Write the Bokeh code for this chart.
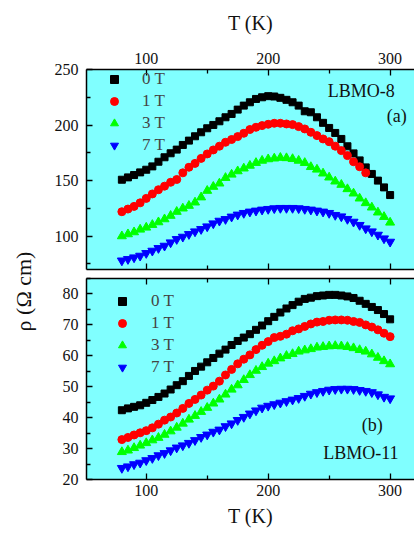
from math import pi
from bokeh.plotting import figure
from bokeh.models import Range1d, LinearAxis, FixedTicker, Legend, LegendItem, Label
from bokeh.layouts import row, column
from bokeh.embed import file_html
from bokeh.resources import INLINE

# ---------------- data ----------------
T = [80, 85, 90, 95, 100, 105, 110, 115, 120, 125, 130, 135, 140, 145, 150,
     155, 160, 165, 170, 175, 180, 185, 190, 195, 200, 205, 210, 215, 220, 225,
     230, 235, 240, 245, 250, 255, 260, 265, 270, 275, 280, 285, 290, 295, 300]
T_1T_a = T[:41]

field_labels = ["0 T", "1 T", "3 T", "7 T"]
x_ticks = [100, 200, 300]
x_minor = [50, 150, 250]
ya_ticks = [100, 150, 200, 250]
ya_minor = [75, 125, 175, 225]
yb_ticks = [20, 30, 40, 50, 60, 70, 80]
yb_minor = [25, 35, 45, 55, 65, 75, 85]

# LBMO-8 (a)
a_0T = [150.8, 152.9, 155.0, 157.4, 159.8, 162.8, 167.0, 171.0, 174.6, 177.9,
        182.1, 186.0, 189.9, 193.5, 197.1, 200.1, 203.4, 207.0, 210.0, 213.9,
        217.5, 220.5, 223.5, 225.0, 226.0, 225.7, 224.5, 222.7, 220.5, 217.5,
        212.4, 211.5, 207.0, 202.0, 197.4, 192.9, 187.5, 180.9, 174.5, 168.2,
        161.9, 156.0, 150.0, 143.9, 137.0]
a_1T = [122.0, 124.4, 126.8, 130.0, 134.0, 138.0, 141.8, 145.0, 148.5, 151.0,
        157.0, 162.0, 165.5, 170.0, 174.0, 177.6, 181.0, 184.5, 187.0, 189.6,
        192.6, 196.0, 198.0, 199.5, 200.7, 201.6, 201.6, 201.0, 200.4, 198.6,
        196.5, 193.5, 190.5, 187.5, 185.0, 181.0, 177.0, 172.5, 167.0, 162.5,
        157.0]
a_3T = [100.0, 101.8, 103.6, 106.0, 107.8, 110.2, 112.6, 115.3, 118.4, 122.0,
        125.0, 127.4, 130.4, 135.0, 140.9, 144.5, 147.5, 152.5, 155.5, 158.5,
        161.0, 163.5, 166.0, 168.0, 169.3, 170.0, 170.6, 170.3, 169.5, 168.0,
        166.0, 162.3, 160.0, 156.5, 152.9, 149.3, 146.3, 142.4, 138.5, 134.0,
        129.8, 125.9, 121.4, 117.4, 112.3]
a_7T = [78.0, 79.3, 80.8, 82.3, 84.7, 86.8, 89.2, 91.3, 94.3, 97.3,
        99.4, 101.8, 104.2, 106.3, 108.7, 111.4, 113.8, 115.3, 117.5, 119.3,
        120.8, 122.0, 122.9, 123.8, 124.4, 125.0, 125.3, 125.3, 125.3, 125.0,
        124.4, 123.8, 122.9, 122.0, 120.8, 119.0, 117.7, 115.4, 112.9, 110.0,
        106.9, 104.2, 101.2, 97.9, 94.9]

# LBMO-11 (b)
b_0T = [42.4, 43.0, 43.5, 44.0, 44.8, 45.7, 46.7, 47.8, 49.1, 50.5,
        51.8, 53.5, 55.1, 56.5, 57.9, 59.3, 60.7, 62.0, 63.5, 64.8,
        65.9, 67.0, 68.4, 69.8, 71.2, 72.6, 74.0, 75.3, 76.4, 77.5,
        78.4, 78.8, 79.3, 79.5, 79.7, 79.7, 79.5, 79.2, 78.7, 77.8,
        76.8, 75.8, 74.8, 73.5, 71.8]
b_1T = [32.9, 33.6, 34.4, 35.1, 35.8, 36.7, 37.9, 39.2, 40.2, 41.5,
        43.0, 44.6, 45.9, 47.3, 48.9, 50.2, 51.8, 53.8, 55.6, 57.4,
        58.9, 60.3, 62.0, 63.4, 64.6, 65.9, 66.3, 67.0, 68.1, 68.7,
        69.5, 70.3, 70.9, 71.1, 71.5, 71.6, 71.6, 71.5, 71.1, 70.8,
        70.0, 69.3, 68.4, 67.3, 66.2]
b_3T = [28.9, 29.4, 30.2, 31.0, 31.8, 32.7, 33.5, 34.5, 35.6, 36.8,
        38.1, 39.4, 40.6, 41.9, 43.2, 44.6, 45.9, 47.5, 49.1, 50.5,
        52.2, 53.8, 55.2, 56.4, 57.5, 58.3, 59.2, 60.0, 60.6, 61.4,
        61.8, 62.2, 62.7, 62.9, 63.1, 63.2, 63.1, 62.9, 62.5, 61.9,
        61.4, 60.5, 59.4, 58.3, 57.3]
b_7T = [23.7, 24.2, 24.9, 25.4, 26.2, 26.9, 27.8, 28.5, 29.4, 30.3,
        31.0, 31.8, 32.7, 33.7, 34.5, 35.4, 36.1, 37.2, 38.1, 39.2,
        40.2, 41.3, 42.3, 43.2, 43.8, 44.3, 44.8, 45.3, 45.8, 46.3,
        47.0, 47.7, 48.2, 48.6, 49.0, 49.2, 49.3, 49.3, 49.2, 48.9,
        48.6, 48.2, 47.5, 46.7, 46.2]

# ---------------- style ----------------
FONT = "'Liberation Serif', 'Times New Roman', serif"
BG = "#80ffff"
markers = ["square", "circle", "triangle", "inverted_triangle"]
colors = ["black", "#ff0000", "#00ff00", "#0000ff"]
sizes = [7, 8, 9, 9]


def kill_grids(p):
    for g in p.xgrid + p.ygrid:
        g.visible = False
        g.grid_line_color = None


def style_axis(ax, show_labels=True, title=None):
    ax.axis_line_color = "black"
    ax.axis_line_width = 1.5
    ax.major_tick_in = 6
    ax.major_tick_out = 0
    ax.minor_tick_in = 4
    ax.minor_tick_out = 0
    ax.major_tick_line_color = "black"
    ax.minor_tick_line_color = "black"
    ax.major_tick_line_width = 1.3
    ax.minor_tick_line_width = 1.3
    ax.major_label_text_font = FONT
    ax.major_label_text_font_size = "16px"
    ax.major_label_text_color = "#111111"
    if not show_labels:
        ax.major_label_overrides = {t: "" for t in x_ticks}
        ax.major_label_text_font_size = "1px"
        ax.major_label_standoff = 0
    if title:
        ax.axis_label = title
        ax.axis_label_text_font = FONT
        ax.axis_label_text_font_size = "20px"
        ax.axis_label_text_font_style = "normal"
        ax.axis_label_text_color = "#111111"


def make_panel(ys, xs_list, y_lo, y_hi, yt, ym, frame_h, b_top, b_bot,
               top_labels, bottom_labels, leg_loc, leg_standoff):
    p = figure(frame_width=328, frame_height=frame_h,
               x_range=Range1d(51, 320), y_range=Range1d(y_lo, y_hi),
               x_axis_location=None, y_axis_location=None,
               toolbar_location=None, output_backend="svg",
               min_border_left=40, min_border_right=0,
               min_border_top=b_top, min_border_bottom=b_bot)
    p.background_fill_color = BG
    p.border_fill_color = "white"
    p.outline_line_color = None
    kill_grids(p)

    left = LinearAxis(ticker=FixedTicker(ticks=yt, minor_ticks=ym))
    style_axis(left)
    left.major_label_standoff = 8
    p.add_layout(left, "left")

    above = LinearAxis(ticker=FixedTicker(ticks=x_ticks, minor_ticks=x_minor))
    style_axis(above, show_labels=top_labels, title="T (K)" if top_labels else None)
    if top_labels:
        above.major_label_standoff = 6
        above.axis_label_standoff = 16
    p.add_layout(above, "above")

    below = LinearAxis(ticker=FixedTicker(ticks=x_ticks, minor_ticks=x_minor))
    style_axis(below, show_labels=bottom_labels, title="T (K)" if bottom_labels else None)
    if bottom_labels:
        below.major_label_standoff = 5
        below.axis_label_standoff = 6
    p.add_layout(below, "below")

    items = []
    for y, xs, mk, c, s, lab in zip(ys, xs_list, markers, colors, sizes, field_labels):
        r = p.scatter(xs, y, marker=mk, size=s, fill_color=c, line_color=c)
        items.append(LegendItem(label=lab, renderers=[r]))
    leg = Legend(items=items, location=leg_loc, glyph_width=20, glyph_height=20,
                 label_height=20, spacing=2, padding=0, margin=0,
                 label_standoff=leg_standoff,
                 label_text_font=FONT, label_text_font_size="17px",
                 border_line_color=None, background_fill_alpha=0)
    p.add_layout(leg)
    return p


pa = make_panel([a_0T, a_1T, a_3T, a_7T], [T, T_1T_a, T, T], 70, 250,
                ya_ticks, ya_minor, 200, 69, 4, True, False, (18, 114), 18)
pa.add_layout(Label(x=303.8, y=231, text="LBMO-8", text_align="right",
                    text_baseline="middle", text_font=FONT,
                    text_font_size="18px", text_color="#111111"))
pa.add_layout(Label(x=313.6, y=208.5, text="(a)", text_align="right",
                    text_baseline="middle", text_font=FONT,
                    text_font_size="18px", text_color="#111111"))

pb = make_panel([b_0T, b_1T, b_3T, b_7T], [T, T, T, T], 20, 85,
                yb_ticks, yb_minor, 201, 5, 55, False, True, (26, 102), 19)
pb.add_layout(Label(x=285.4, y=37.5, text="(b)", text_align="center",
                    text_baseline="middle", text_font=FONT,
                    text_font_size="18px", text_color="#111111"))
pb.add_layout(Label(x=276, y=28.5, text="LBMO-11", text_align="center",
                    text_baseline="middle", text_font=FONT,
                    text_font_size="18px", text_color="#111111"))

H = 534
yl = figure(frame_width=46, frame_height=H, x_range=Range1d(0, 46),
            y_range=Range1d(0, H), x_axis_location=None, y_axis_location=None,
            toolbar_location=None, output_backend="svg", min_border=0)
yl.outline_line_color = None
yl.background_fill_color = "white"
yl.border_fill_color = "white"
kill_grids(yl)
yl.add_layout(Label(x=23, y=H - 291, text="ρ (Ω cm)", angle=pi / 2,
                    text_align="center", text_baseline="middle",
                    text_font=FONT, text_font_size="22px", text_color="#111111"))

layout = row(yl, column(pa, pb))

with open("out.html", "w") as f:
    f.write(file_html(layout, INLINE))
